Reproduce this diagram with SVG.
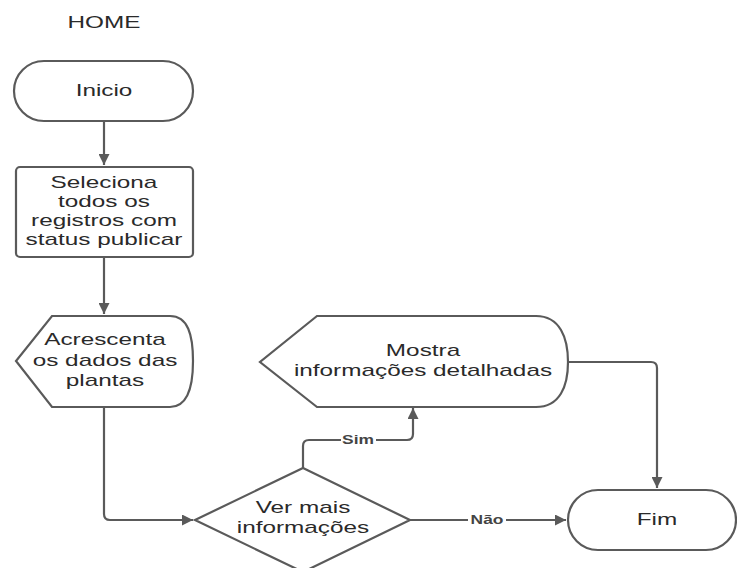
<svg xmlns="http://www.w3.org/2000/svg" width="737" height="568" viewBox="0 0 737 568">
<style>
.s{fill:#fff;stroke:#5a5a5a;stroke-width:2.2}
.t{font-family:"Liberation Sans",Arial,sans-serif;font-size:16px;fill:#2a2a2a;text-anchor:middle}
.c{fill:none;stroke:#5a5a5a;stroke-width:2.2}
.l{font-family:"Liberation Sans",Arial,sans-serif;font-size:12px;font-weight:bold;fill:#444;text-anchor:middle}
</style>
<defs>
<marker id="a" viewBox="0 0 10 10" refX="10" refY="5" markerWidth="11" markerHeight="11" markerUnits="userSpaceOnUse" orient="auto">
<path d="M0,0 L10,5 L0,10 Z" fill="#5a5a5a"/>
</marker>
</defs>
<rect width="737" height="568" fill="#fff"/>
<text class="t" transform="translate(104,0) scale(1.52,1)" x="0" y="28">HOME</text>
<g id="connectors">
<path class="c" d="M104,121 V165" marker-end="url(#a)"/>
<path class="c" d="M104,257 V314" marker-end="url(#a)"/>
<path class="c" d="M104,407 V514 Q104,520 110,520 H193" marker-end="url(#a)"/>
<path class="c" d="M303,468 V446 Q303,440 309,440 H407 Q413,440 413,434 V408" marker-end="url(#a)"/>
<path class="c" d="M410,520 H566" marker-end="url(#a)"/>
<path class="c" d="M568,362 H651 Q657,362 657,368 V488" marker-end="url(#a)"/>
<rect x="341" y="433" width="35" height="14" fill="#fff"/>
<text class="l" transform="translate(358,0) scale(1.45,1)" x="0" y="444">Sim</text>
<rect x="468" y="513" width="38" height="14" fill="#fff"/>
<text class="l" transform="translate(487,0) scale(1.45,1)" x="0" y="524">Não</text>
</g>
<g id="inicio">
<rect class="s" x="14" y="61" width="179" height="60" rx="30"/>
<text class="t" transform="translate(104,0) scale(1.52,1)" x="0" y="96">Inicio</text>
</g>
<g id="seleciona">
<rect class="s" x="16" y="167" width="177" height="90" rx="4"/>
<text class="t" transform="translate(104,0) scale(1.52,1)" x="0" y="188">Seleciona</text>
<text class="t" transform="translate(104,0) scale(1.52,1)" x="0" y="207">todos os</text>
<text class="t" transform="translate(104,0) scale(1.52,1)" x="0" y="226">registros com</text>
<text class="t" transform="translate(104,0) scale(1.52,1)" x="0" y="245">status publicar</text>
</g>
<g id="acrescenta">
<path class="s" d="M52,316 H170 C188,316 193,335 193,361 C193,387 188,407 170,407 H52 L16,361 Z"/>
<text class="t" transform="translate(105,0) scale(1.52,1)" x="0" y="345">Acrescenta</text>
<text class="t" transform="translate(105,0) scale(1.52,1)" x="0" y="366">os dados das</text>
<text class="t" transform="translate(105,0) scale(1.52,1)" x="0" y="386">plantas</text>
</g>
<g id="mostra">
<path class="s" d="M317,316 H536 C560,316 568,338 568,362 C568,386 560,407 536,407 H317 L260,362 Z"/>
<text class="t" transform="translate(423,0) scale(1.52,1)" x="0" y="356">Mostra</text>
<text class="t" transform="translate(423,0) scale(1.52,1)" x="0" y="376">informações detalhadas</text>
</g>
<g id="decisao">
<path class="s" d="M303,468 L410,520 L303,572 L195,520 Z"/>
<text class="t" transform="translate(303,0) scale(1.52,1)" x="0" y="513">Ver mais</text>
<text class="t" transform="translate(303,0) scale(1.52,1)" x="0" y="533">informações</text>
</g>
<g id="fim">
<rect class="s" x="568" y="490" width="168" height="60" rx="30"/>
<text class="t" transform="translate(657,0) scale(1.52,1)" x="0" y="525">Fim</text>
</g>
</svg>
